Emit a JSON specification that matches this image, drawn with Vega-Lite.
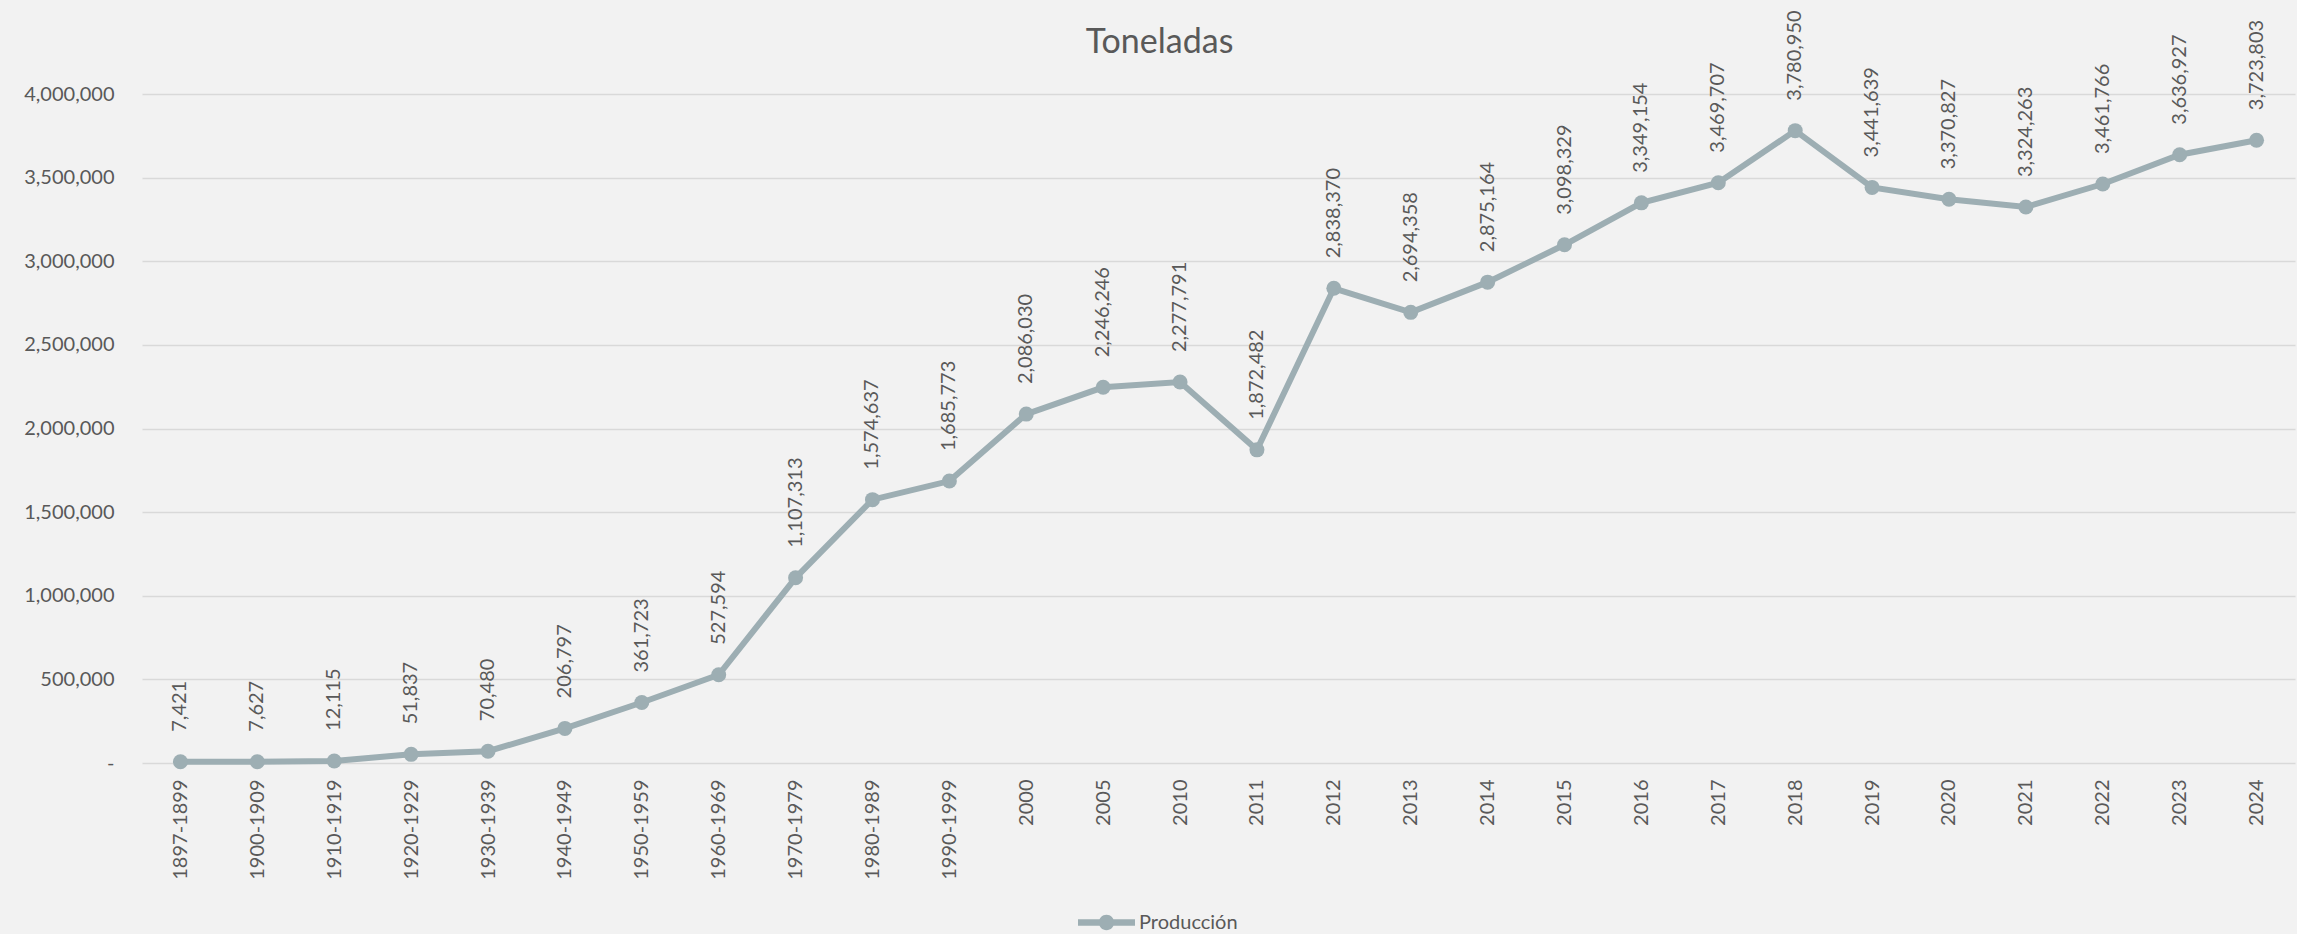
{
  "$schema": "https://vega.github.io/schema/vega-lite/v6.json",
  "width": 2153,
  "height": 669,
  "autosize": {"type": "none"},
  "padding": {"left": 142, "top": 94, "right": 2, "bottom": 171},
  "background": "#F2F2F2",
  "title": {"text": "Toneladas", "font": "Lato", "fontSize": 34, "fontWeight": "normal", "color": "#595959", "anchor": "middle", "frame": "group", "dx": -59, "offset": -77, "baseline": "alphabetic"},
  "config": {"view": {"stroke": null}, "font": "Lato"},
  "data": {"values": [
    {"periodo": "1897-1899", "toneladas": 7421, "serie": "Producción"},
    {"periodo": "1900-1909", "toneladas": 7627, "serie": "Producción"},
    {"periodo": "1910-1919", "toneladas": 12115, "serie": "Producción"},
    {"periodo": "1920-1929", "toneladas": 51837, "serie": "Producción"},
    {"periodo": "1930-1939", "toneladas": 70480, "serie": "Producción"},
    {"periodo": "1940-1949", "toneladas": 206797, "serie": "Producción"},
    {"periodo": "1950-1959", "toneladas": 361723, "serie": "Producción"},
    {"periodo": "1960-1969", "toneladas": 527594, "serie": "Producción"},
    {"periodo": "1970-1979", "toneladas": 1107313, "serie": "Producción"},
    {"periodo": "1980-1989", "toneladas": 1574637, "serie": "Producción"},
    {"periodo": "1990-1999", "toneladas": 1685773, "serie": "Producción"},
    {"periodo": "2000", "toneladas": 2086030, "serie": "Producción"},
    {"periodo": "2005", "toneladas": 2246246, "serie": "Producción"},
    {"periodo": "2010", "toneladas": 2277791, "serie": "Producción"},
    {"periodo": "2011", "toneladas": 1872482, "serie": "Producción"},
    {"periodo": "2012", "toneladas": 2838370, "serie": "Producción"},
    {"periodo": "2013", "toneladas": 2694358, "serie": "Producción"},
    {"periodo": "2014", "toneladas": 2875164, "serie": "Producción"},
    {"periodo": "2015", "toneladas": 3098329, "serie": "Producción"},
    {"periodo": "2016", "toneladas": 3349154, "serie": "Producción"},
    {"periodo": "2017", "toneladas": 3469707, "serie": "Producción"},
    {"periodo": "2018", "toneladas": 3780950, "serie": "Producción"},
    {"periodo": "2019", "toneladas": 3441639, "serie": "Producción"},
    {"periodo": "2020", "toneladas": 3370827, "serie": "Producción"},
    {"periodo": "2021", "toneladas": 3324263, "serie": "Producción"},
    {"periodo": "2022", "toneladas": 3461766, "serie": "Producción"},
    {"periodo": "2023", "toneladas": 3636927, "serie": "Producción"},
    {"periodo": "2024", "toneladas": 3723803, "serie": "Producción"}
  ]},
  "encoding": {
    "x": {"field": "periodo", "type": "ordinal", "sort": null,
      "axis": {"title": null, "labelAngle": -90, "domain": false, "ticks": false, "grid": false, "labelFontSize": 20, "labelColor": "#595959", "labelPadding": 16, "labelFont": "Lato"}},
    "y": {"field": "toneladas", "type": "quantitative", "scale": {"domain": [0, 4000000]},
      "axis": {"title": null, "values": [0, 500000, 1000000, 1500000, 2000000, 2500000, 3000000, 3500000, 4000000], "grid": true, "gridColor": "#D9D9D9", "gridWidth": 1.3, "domain": false, "ticks": false, "labelFontSize": 20, "labelColor": "#595959", "labelPadding": 28, "labelFont": "Lato",
        "labelExpr": "datum.value == 0 ? '-\u00a0\u00a0\u00a0' : format(datum.value, ',')"}}
  },
  "layer": [
    {"mark": {"type": "line", "color": "#9DAEB3", "strokeWidth": 6}},
    {"mark": {"type": "point", "filled": true, "size": 225, "opacity": 1},
      "encoding": {"color": {"field": "serie", "type": "nominal", "scale": {"range": ["#9DAEB3"]},
        "legend": {"orient": "none", "legendX": 936, "legendY": 800, "title": null, "padding": 0,
          "symbolType": "M-1,-0.11L1,-0.11L1,0.11L-1,0.11Z M0.27,0A0.27,0.27 0 1,1 -0.27,0A0.27,0.27 0 1,1 0.27,0Z",
          "symbolSize": 3249, "symbolStrokeWidth": 0, "symbolOpacity": 1, "labelFontSize": 20, "labelColor": "#595959", "labelFont": "Lato", "labelOffset": 4}}}},
    {"mark": {"type": "text", "angle": 270, "align": "left", "baseline": "middle", "dx": 30, "fontSize": 20, "color": "#595959", "font": "Lato"},
      "encoding": {"text": {"field": "toneladas", "type": "quantitative", "format": ","}}}
  ]
}
